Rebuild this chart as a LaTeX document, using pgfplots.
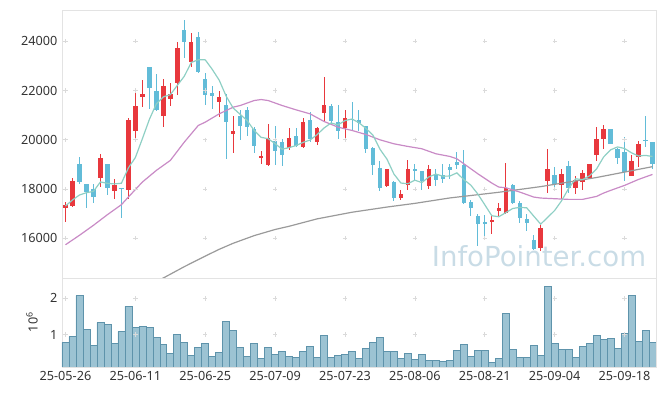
\documentclass[border=0pt]{standalone}
\usepackage{fontspec}
\setmainfont{Noto Sans}
\newfontfamily\wmfont{DejaVu Sans}
\usepackage{pgfplots}
\usepackage{pgfplotstable}
\pgfplotsset{compat=1.18}

\definecolor{upc}{HTML}{E8383D}
\definecolor{dnc}{HTML}{62BCD8}
\definecolor{mafive}{HTML}{8ECFC4}
\definecolor{matwenty}{HTML}{C98BC6}
\definecolor{masixty}{HTML}{9A9A9A}
\definecolor{volf}{HTML}{9CC3D3}
\definecolor{vole}{HTML}{5E93AB}
\definecolor{framec}{HTML}{E3E3E3}
\definecolor{gridc}{HTML}{DADADA}
\definecolor{wm}{HTML}{C9DCE6}
\definecolor{txt}{HTML}{333333}

\pgfplotstableread{
i o h l c v
0 17245 17480 16650 17354 0.78
1 17310 18460 17270 18330 0.94
2 19000 19310 18220 18290 2.08
3 18190 18200 17230 17880 1.14
4 18010 18220 17430 17680 0.69
5 18460 19430 18080 19270 1.33
6 19000 19030 17745 18040 1.28
7 17907 18420 17610 18177 0.75
8 18050 18060 16810 18020 1.08
9 17975 20890 17610 20785 1.78
10 20350 22000 19970 21390 1.19
11 21730 22430 21320 21840 1.22
12 22970 22975 21260 22095 1.19
13 22000 22680 21150 21190 0.92
14 20960 22470 20540 22200 0.72
15 21660 22300 21390 21840 0.47
16 22300 23990 21825 23716 1.00
17 24470 24865 23310 23960 0.78
18 23150 24340 22946 23986 0.42
19 24190 24390 22720 22744 0.64
20 22470 22715 21420 21825 0.75
21 21890 22200 21257 21785 0.39
22 21530 22000 20920 21757 0.50
23 21430 21865 19230 20717 1.36
24 20245 20985 19475 20350 1.11
25 20960 21190 19975 20555 0.64
26 21190 21325 20135 20515 0.39
27 20445 20515 19475 19757 0.75
28 19270 19540 19000 19325 0.33
29 18960 20635 18930 20080 0.64
30 19933 20580 18990 19540 0.44
31 19906 20014 18950 19392 0.53
32 19663 20473 19568 20081 0.39
33 20135 20473 19703 19744 0.36
34 19703 20880 19680 20717 0.53
35 20811 21120 19906 20014 0.67
36 19906 20540 19800 20487 0.36
37 21095 22567 20717 21433 0.97
38 21390 21460 20676 20757 0.36
39 20717 21420 20014 20338 0.42
40 20473 21190 19974 20892 0.44
41 20860 21550 20400 20800 0.53
42 20784 21216 20338 20676 0.33
43 20541 20580 19474 19609 0.61
44 19663 19700 18580 18960 0.78
45 18852 19122 17907 18042 0.92
46 18109 18825 18080 18798 0.53
47 18271 18325 17500 17636 0.53
48 17636 17947 17542 17785 0.33
49 18150 19190 17947 18825 0.47
50 18800 19000 18350 18760 0.31
51 18717 18720 17950 18312 0.44
52 18123 18960 18015 18798 0.28
53 18622 18825 18123 18352 0.28
54 18555 19028 18258 18393 0.25
55 18893 19028 18393 18784 0.28
56 19095 19500 18825 18960 0.56
57 18987 19568 17400 17434 0.72
58 17474 17540 16893 17231 0.39
59 16907 16975 15677 16596 0.56
60 16650 16960 15990 16596 0.56
61 16704 16960 16164 16731 0.22
62 17110 17447 16907 17231 0.33
63 17041 19054 17000 18055 1.58
64 18149 18190 17406 17447 0.58
65 17447 17500 16636 16825 0.36
66 16798 17000 16285 16636 0.36
67 15920 16150 15515 15555 0.69
68 15610 16555 15474 16420 0.42
69 18325 19635 17852 18825 2.33
70 18554 18892 18041 18217 0.75
71 18176 18825 17582 18622 0.58
72 18919 19122 17852 18041 0.58
73 18055 18514 17811 18379 0.36
74 18284 18757 17973 18662 0.67
75 18460 19027 18420 19000 0.75
76 19365 20540 19135 20014 0.97
77 20014 20581 19608 20446 0.86
78 20446 20450 19810 19838 0.89
79 19635 19660 19027 19257 0.61
80 19500 20108 18325 18690 1.03
81 18527 19365 18514 19122 2.08
82 19297 19946 18892 19811 0.81
83 19986 20986 19703 19959 1.11
84 19905 19910 18798 19027 0.78
}\candles

\pgfplotstableread{
i m
0 17313
1 17557
2 17760
3 17853
4 17906
5 18290
6 18232
7 18209
8 18237
9 18858
10 19282
11 20042
12 20826
13 21460
14 21743
15 21833
16 22208
17 22581
18 23140
19 23249
20 23246
21 22860
22 22419
23 21766
24 21287
25 21033
26 20779
27 20379
28 20100
29 20046
30 19843
31 19619
32 19684
33 19767
34 19895
35 19990
36 20209
37 20479
38 20682
39 20606
40 20781
41 20844
42 20693
43 20463
44 20187
45 19617
46 19217
47 18609
48 18244
49 18217
50 18361
51 18264
52 18496
53 18609
54 18523
55 18528
56 18657
57 18385
58 18160
59 17801
60 17363
61 16918
62 16877
63 17042
64 17212
65 17258
66 17239
67 16904
68 16577
69 16852
70 17131
71 17528
72 18025
73 18417
74 18384
75 18541
76 18819
77 19300
78 19592
79 19711
80 19649
81 19471
82 19344
83 19368
84 19322
}\mafive

\pgfplotstableread{
i m
0 15740
2 16124
4 16529
6 16961
8 17366
9 17677
11 18285
13 18758
15 19163
17 19906
19 20582
20 20717
22 21054
24 21325
25 21392
27 21595
28 21635
29 21595
31 21392
33 21216
35 21054
37 20744
39 20514
41 20379
43 20216
45 20000
47 19838
49 19730
51 19636
53 19433
55 19325
56 19230
57 19028
59 18622
61 18244
62 18082
63 18055
65 17879
67 17676
68 17636
70 17609
72 17582
74 17582
76 17703
77 17838
78 17946
80 18149
82 18392
84 18595
}\matwenty

\pgfplotstableread{
i m
12 14100
14 14390
17 14850
20 15280
22 15555
24 15800
27 16110
30 16360
32 16490
36 16790
41 17060
46 17270
50 17420
55 17640
62 17870
68 18100
76 18470
84 18910
}\masixty

\begin{document}
\begin{tikzpicture}
\node[text=wm, font=\wmfont\fontsize{20.7pt}{24pt}\selectfont] at (404.25pt,105pt) {InfoPointer.com};

\begin{axis}[
  at={(46.5pt,88.5pt)}, anchor=south west,
  scale only axis, width=445.5pt, height=201pt,
  xmin=-0.5, xmax=84.5, ymin=14390, ymax=25270,
  axis line style={framec},
  xtick={0,10,...,80}, xticklabels={},
  ytick={16000,18000,...,24000},
  scaled y ticks=false,
  major tick length=0pt,
  yticklabel style={font=\fontsize{9.5pt}{11pt}\selectfont, text=txt},
  /pgf/number format/1000 sep={},
  /pgf/number format/fixed,
  /pgf/number format/assume math mode=true,
]
\pgfplotsinvokeforeach{0,10,...,80}{
  \addplot[only marks, mark=+, mark size=1.6pt, color=gridc, line width=0.5pt]
    coordinates {(#1,16000)(#1,18000)(#1,20000)(#1,22000)(#1,24000)};
}
% up candles
\addplot[draw=none, no marks,
  restrict expr to domain={\thisrow{c}-\thisrow{o}}{0:100000},
  error bars/.cd, y dir=both, y explicit, error mark=none,
  error bar style={upc, line width=0.75pt}]
  table[x=i, y expr={(\thisrow{h}+\thisrow{l})/2}, y error expr={(\thisrow{h}-\thisrow{l})/2}] {\candles};
\addplot[draw=none, no marks,
  restrict expr to domain={\thisrow{c}-\thisrow{o}}{0:100000},
  error bars/.cd, y dir=both, y explicit, error mark=none,
  error bar style={upc, line width=3.3pt}]
  table[x=i, y expr={(\thisrow{o}+\thisrow{c})/2}, y error expr={max(abs(\thisrow{c}-\thisrow{o})/2,25)}] {\candles};
% down candles
\addplot[draw=none, no marks,
  restrict expr to domain={\thisrow{o}-\thisrow{c}}{0.5:100000},
  error bars/.cd, y dir=both, y explicit, error mark=none,
  error bar style={dnc, line width=0.75pt}]
  table[x=i, y expr={(\thisrow{h}+\thisrow{l})/2}, y error expr={(\thisrow{h}-\thisrow{l})/2}] {\candles};
\addplot[draw=none, no marks,
  restrict expr to domain={\thisrow{o}-\thisrow{c}}{0.5:100000},
  error bars/.cd, y dir=both, y explicit, error mark=none,
  error bar style={dnc, line width=3.3pt}]
  table[x=i, y expr={(\thisrow{o}+\thisrow{c})/2}, y error expr={max(abs(\thisrow{c}-\thisrow{o})/2,25)}] {\candles};
% moving averages
\addplot[masixty, line width=0.9pt, mark=none] table[x=i, y=m] {\masixty};
\addplot[matwenty, line width=0.9pt, mark=none] table[x=i, y=m] {\matwenty};
\addplot[mafive, line width=0.9pt, mark=none] table[x=i, y=m] {\mafive};
\end{axis}

\begin{axis}[
  at={(46.5pt,21.75pt)}, anchor=south west,
  scale only axis, width=445.5pt, height=66.75pt,
  xmin=-0.5, xmax=84.5, ymin=0.1, ymax=2.565,
  axis line style={framec},
  xtick={0,10,...,80},
  xticklabels={25-05-26,25-06-11,25-06-25,25-07-09,25-07-23,25-08-06,25-08-21,25-09-04,25-09-18},
  ytick={1,2},
  major tick length=0pt,
  yticklabel style={font=\fontsize{9.5pt}{11pt}\selectfont, text=txt},
  xticklabel style={font=\fontsize{9.5pt}{11pt}\selectfont, text=txt},
  /pgf/number format/assume math mode=true,
]
\pgfplotsinvokeforeach{0,10,...,80}{
  \addplot[only marks, mark=+, mark size=1.6pt, color=gridc, line width=0.5pt]
    coordinates {(#1,1)(#1,2)};
}
\addplot[ybar, bar width=1, fill=volf, draw=vole, line width=0.5pt] table[x=i, y=v] {\candles};
\end{axis}

\node[rotate=90, text=txt, font=\fontsize{9.5pt}{11pt}\selectfont] at (24pt,55.5pt) {10\textsuperscript{6}};

\pgfresetboundingbox
\useasboundingbox (0,0) rectangle (498.75pt,297pt);
\end{tikzpicture}
\end{document}
